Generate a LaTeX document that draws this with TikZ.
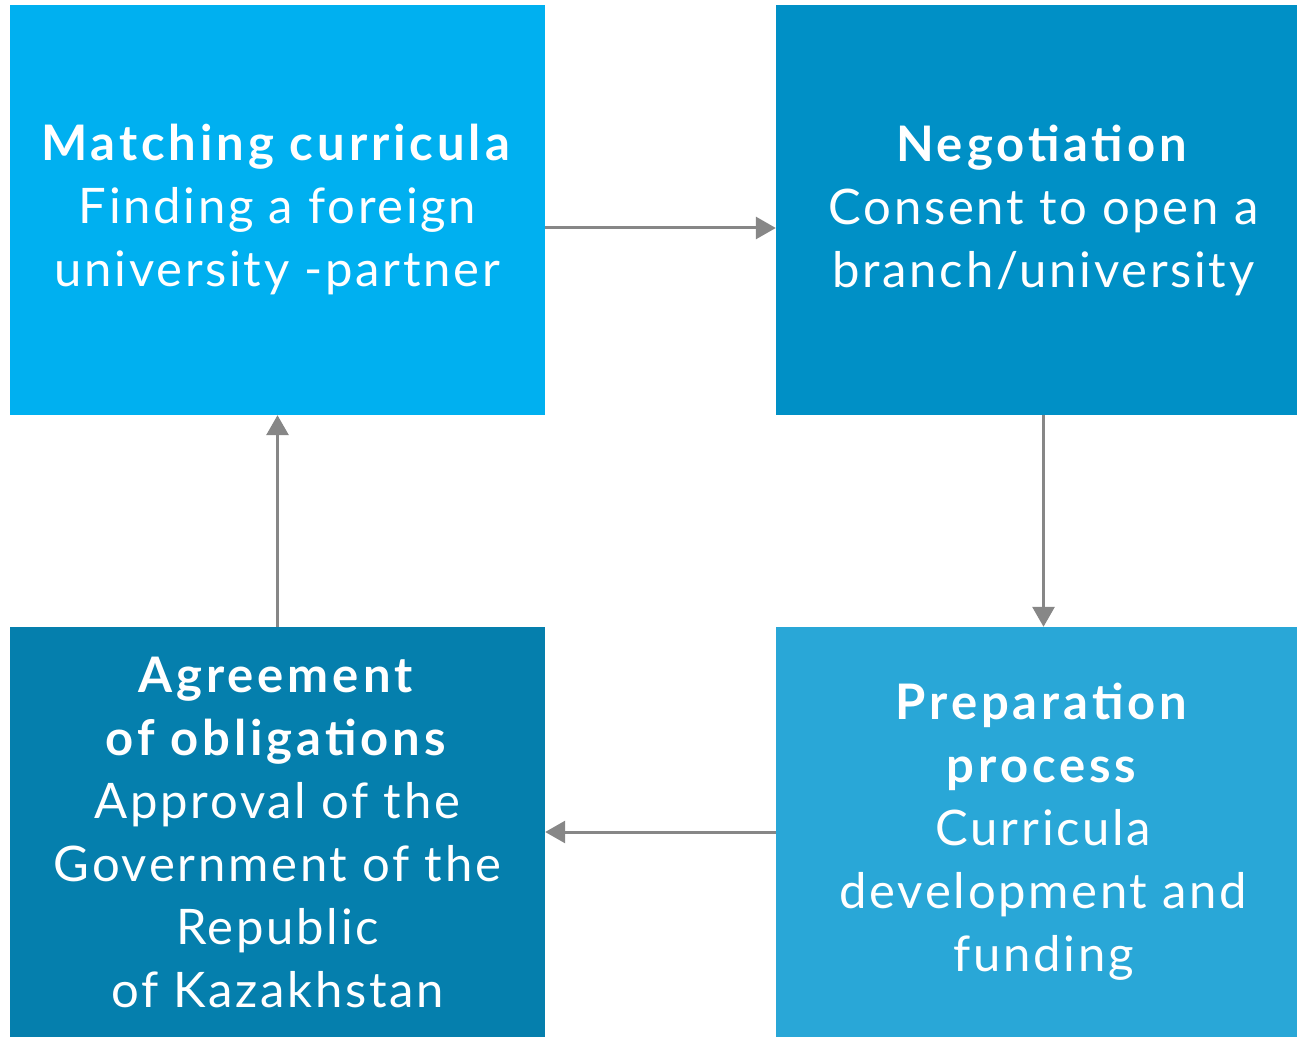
\documentclass[tikz,border=0pt]{standalone}
\usepackage{fontspec}
\setmainfont{Lato}[LetterSpace=5.5,BoldFeatures={LetterSpace=8}]
\usetikzlibrary{arrows.meta}
\definecolor{boxA}{HTML}{00B0F0}
\definecolor{boxB}{HTML}{0090C6}
\definecolor{boxC}{HTML}{057FAD}
\definecolor{boxD}{HTML}{29A7D7}
\definecolor{linkgray}{HTML}{878787}
\begin{document}
\begin{tikzpicture}[x=1pt,y=1pt,
  stage/.style={minimum width=535pt,minimum height=410pt,inner sep=0pt,
    text=white,align=center,font=\fontsize{49}{63}\selectfont},
  link/.style={draw=linkgray,line width=3pt,
    -{Triangle[length=20pt,width=22pt]}}]
\useasboundingbox (0,0) rectangle (1297,1036);
\begin{scope}
\clip (0,0) rectangle (1297,1036);
\node[stage,fill=boxA] (match) at (277.5,826)
  {\textbf{Matching curricula}\\Finding a foreign\\university -partner};
\node[stage,fill=boxB] (nego) at (1043.5,826)
  {\textbf{Negotiation}\\Consent to open a\\branch/university};
\node[stage,fill=boxC] (agree) at (277.5,204)
  {\textbf{Agreement}\\\textbf{of obligations}\\Approval of the\\Government of the\\Republic\\of Kazakhstan};
\node[stage,fill=boxD] (prep) at (1043.5,204)
  {\textbf{Preparation}\\\textbf{process}\\Curricula\\development and\\funding};
\end{scope}
\draw[link] ([yshift=-18pt]match.east) -- ([yshift=-18pt]nego.west);
\draw[link] (nego.south) -- (prep.north);
\draw[link] (prep.west) -- (agree.east);
\draw[link] (agree.north) -- (match.south);
\end{tikzpicture}
\end{document}
